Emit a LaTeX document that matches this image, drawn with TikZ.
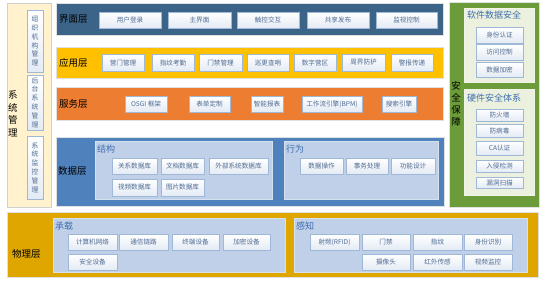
\documentclass[tikz,border=0pt]{standalone}
\usepackage{fontspec}
\newfontfamily\cjk{Noto Sans CJK SC}
\definecolor{uiblue}{HTML}{3C6489}
\definecolor{appyel}{HTML}{FFC000}
\definecolor{svcor}{HTML}{ED7D31}
\definecolor{datab}{HTML}{4F81BD}
\definecolor{innerb}{HTML}{BFD0E8}
\definecolor{innerbd}{HTML}{D6E1F0}
\definecolor{sysyel}{HTML}{FFF2CC}
\definecolor{secg}{HTML}{6C9C3A}
\definecolor{secin}{HTML}{EBF1DE}
\definecolor{phyg}{HTML}{DFA600}
\definecolor{btnbd}{HTML}{9FB8D8}
\definecolor{btnbot}{HTML}{E4EBF5}
\definecolor{btntx}{HTML}{4F6B92}
\definecolor{ttlb}{HTML}{3F6DAE}
\newcommand{\mkbtn}[6]{\node[btn, minimum width={(#4-#2)*1pt}, minimum height={(#5-#3)*1pt}] (#1) at ({(#2+#4)/2},{(#3+#5)/2}) {#6};}
\begin{document}
\begin{tikzpicture}[x=1pt,y=-1pt,
 btn/.style={draw=btnbd, line width=0.6pt, top color=white, bottom color=btnbot, inner sep=0pt, text=btntx, font=\cjk\fontsize{6.6}{7}\selectfont},
 lay/.style={font=\cjk\fontsize{9.5}{10}\selectfont, anchor=west, inner sep=0pt},
 ttl/.style={font=\cjk\fontsize{9}{10}\selectfont, anchor=west, inner sep=0pt, text=ttlb},
 vtxt/.style={font=\cjk\fontsize{9.5}{12.5}\selectfont, align=center, inner sep=0pt},
]
\useasboundingbox[fill=white] (0,0) rectangle (550,282);
% system management
\filldraw[fill=sysyel, draw=black!18, line width=0.6pt] (7,3) rectangle (51,207);
\node[vtxt] (sysm) at (13,114) {系\\统\\管\\理};
\node[btn, minimum width=16pt, minimum height=62pt, font=\cjk\fontsize{6.8}{8.8}\selectfont, align=center] (s1) at (35,41) {组\\织\\机\\构\\管\\理};
\node[btn, minimum width=16pt, minimum height=55pt, font=\cjk\fontsize{6.8}{8.8}\selectfont, align=center] (s2) at (35,102.5) {后\\台\\系\\统\\管\\理};
\node[btn, minimum width=16pt, minimum height=63pt, font=\cjk\fontsize{6.8}{8.8}\selectfont, align=center] (s3) at (35,167.5) {系\\统\\监\\控\\管\\理};
% bands
\filldraw[fill=uiblue, draw=black!12, line width=0.5pt] (56,3) rectangle (443,35);
\filldraw[fill=appyel, draw=black!12, line width=0.5pt] (56,47) rectangle (443,78);
\filldraw[fill=svcor, draw=black!12, line width=0.5pt] (56,87) rectangle (443,120);
\filldraw[fill=datab, draw=black!12, line width=0.5pt] (56,137) rectangle (444,206);
\node[lay] (l1) at (59,19) {界面层};
\node[lay] (l2) at (59,62.5) {应用层};
\node[lay] (l3) at (59,104) {服务层};
\node[lay] (l4) at (58,171) {数据层};
% UI buttons
\mkbtn{u1}{99}{12}{161}{28}{用户登录}
\mkbtn{u2}{168}{12}{231}{28}{主界面}
\mkbtn{u3}{237}{12}{299}{28}{触控交互}
\mkbtn{u4}{307}{12}{369}{28}{共享发布}
\mkbtn{u5}{376}{12}{437}{28}{监视控制}
% app buttons
\mkbtn{a1}{102}{54}{144}{71}{营门管理}
\mkbtn{a2}{152}{54}{194}{71}{指纹考勤}
\mkbtn{a3}{199}{54}{242}{71}{门禁管理}
\mkbtn{a4}{247}{54}{289}{71}{巡更查哨}
\mkbtn{a5}{294}{54}{336}{71}{数字营区}
\mkbtn{a6}{342}{54}{385}{71}{周界防护}
\mkbtn{a7}{391}{54}{433}{71}{警报传递}
% service buttons
\mkbtn{v1}{125}{96}{167}{112}{OSGI 框架}
\mkbtn{v2}{189}{96}{230}{112}{表单定制}
\mkbtn{v3}{251}{96}{283}{112}{智能报表}
\mkbtn{v4}{302}{96}{362}{112}{工作流引擎(BPM)}
\mkbtn{v5}{382}{96}{416}{112}{搜索引擎}
% data inner boxes
\filldraw[fill=innerb, draw=innerbd, line width=0.8pt] (95,141) rectangle (272,199);
\filldraw[fill=innerb, draw=innerbd, line width=0.8pt] (284,141) rectangle (438,199);
\node[ttl] (t1) at (97,149) {结构};
\node[ttl] (t2) at (286,149) {行为};
\mkbtn{d1}{112}{158}{157}{174}{关系数据库}
\mkbtn{d2}{161}{158}{204}{174}{文档数据库}
\mkbtn{d3}{209}{158}{268}{174}{外部系统数据库}
\mkbtn{d4}{112}{179}{157}{196}{视频数据库}
\mkbtn{d5}{161}{179}{204}{196}{图片数据库}
\mkbtn{b1}{300}{158}{343}{174}{数据操作}
\mkbtn{b2}{346}{158}{388}{174}{事务处理}
\mkbtn{b3}{391}{158}{435}{174}{功能设计}
% security
\filldraw[fill=secg, draw=black!12, line width=0.5pt] (449,2) rectangle (539,207);
\node[vtxt, font=\cjk\fontsize{9.5}{12}\selectfont] (secm) at (456,104) {安\\全\\保\\障};
\filldraw[fill=secin, draw=secin!70!white, line width=0.6pt] (464,8) rectangle (534,82);
\filldraw[fill=secin, draw=secin!70!white, line width=0.6pt] (464,89) rectangle (534,195);
\node[ttl] (t3) at (467,15.5) {软件数据安全};
\node[ttl] (t4) at (467,98) {硬件安全体系};
\mkbtn{e1}{476}{27}{523}{43}{身份认证}
\mkbtn{e2}{476}{44.5}{523}{60}{访问控制}
\mkbtn{e3}{476}{62}{523}{77}{数据加密}
\mkbtn{h1}{476}{109}{523}{121}{防火墙}
\mkbtn{h2}{476}{124}{523}{137}{防病毒}
\mkbtn{h3}{476}{141}{523}{155}{CA认证}
\mkbtn{h4}{476}{160}{523}{172}{入侵检测}
\mkbtn{h5}{476}{177}{523}{188}{漏洞扫描}
% physical
\filldraw[fill=phyg, draw=black!12, line width=0.5pt] (7,212) rectangle (538,277);
\node[lay, anchor=center] (l5) at (26.5,254) {物理层};
\filldraw[fill=innerb, draw=innerbd, line width=0.8pt] (53,218) rectangle (285,272);
\filldraw[fill=innerb, draw=innerbd, line width=0.8pt] (294,218) rectangle (527,272);
\node[ttl] (t5) at (55,226) {承载};
\node[ttl] (t6) at (296,226) {感知};
\mkbtn{p1}{68}{234}{117}{250}{计算机网络}
\mkbtn{p2}{119}{234}{168}{250}{通信链路}
\mkbtn{p3}{172}{234}{219}{250}{终端设备}
\mkbtn{p4}{223}{234}{270}{250}{加密设备}
\mkbtn{p5}{68}{254}{117}{270}{安全设备}
\mkbtn{q1}{310}{234}{359}{250}{射频(RFID)}
\mkbtn{q2}{362}{234}{410}{250}{门禁}
\mkbtn{q3}{413}{234}{462}{250}{指纹}
\mkbtn{q4}{464}{234}{512}{250}{身份识别}
\mkbtn{q5}{362}{254}{410}{270}{摄像头}
\mkbtn{q6}{413}{254}{462}{270}{红外传感}
\mkbtn{q7}{464}{254}{512}{270}{视频监控}
\end{tikzpicture}
\end{document}
